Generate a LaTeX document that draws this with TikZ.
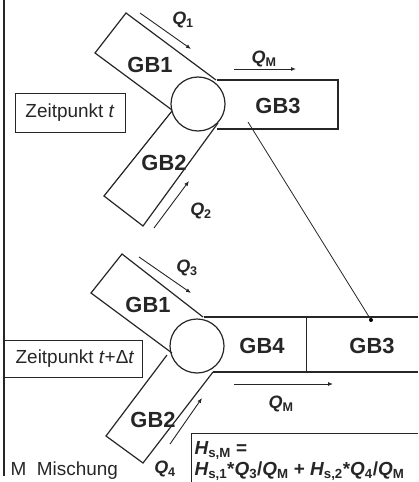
\documentclass[tikz,border=0pt]{standalone}
\usepackage{fontspec}
\setmainfont{Liberation Sans}
\usetikzlibrary{arrows.meta}
\begin{document}
\begin{tikzpicture}[x=1bp,y=-1bp,line width=1.2bp,draw=black!85,
  gb/.style={font=\fontsize{22}{24}\selectfont\bfseries,text=black!85},
  lbl/.style={font=\fontsize{19}{22}\selectfont,text=black!85},
  ql/.style={font=\fontsize{18}{20}\selectfont\bfseries\itshape,text=black!85},
  fl/.style={font=\fontsize{19}{21}\selectfont\bfseries\itshape,text=black!85},
  flow/.style={-{Latex[length=5bp,width=4bp]},line width=0.9bp},
  thin/.style={line width=0.8bp}]
\useasboundingbox (0,0) rectangle (418,482);
% left border
\draw[line width=1.8bp] (4,0) -- (4,476);
% ---------- top ----------
\node[circle,draw,minimum size=54bp,inner sep=0pt] (c1) at (198,104) {};
\draw (216,80) -- (126,13) -- (95,53) -- (172,110);
\draw (172,111) -- (104,196) -- (143,226) -- (218,123);
\draw (217,80) -- (338,80) -- (338,129) -- (217,129);
\node[gb] (gb1a) at (150,65) {GB1};
\node[gb] (gb2a) at (164,163) {GB2};
\node[gb] (gb3a) at (278,106) {GB3};
\node[lbl,draw,thin,minimum width=110bp,minimum height=39bp,inner sep=0pt] (zt) at (70,112.5) {Zeitpunkt \textit{t}};
\coordinate (q1s) at (140,13); \coordinate (q1e) at (191,49);
\draw[flow] (q1s) -- (q1e);
\node[ql] (q1) at (183,20) {Q\textsubscript{\upshape 1}};
\coordinate (q2s) at (154,228); \coordinate (q2e) at (189,181);
\draw[flow] (q2s) -- (q2e);
\node[ql] (q2) at (201,211) {Q\textsubscript{\upshape 2}};
\coordinate (qms) at (234,69); \coordinate (qme) at (296,69);
\draw[flow] (qms) -- (qme);
\node[ql] (qm) at (264,59) {Q\textsubscript{\upshape M}};
% connector
\coordinate (p1) at (248,122);
\coordinate (p2) at (371,320);
\draw[thin] (p1) -- (p2);
\fill (p2) circle (2bp);
% ---------- bottom ----------
\node[circle,draw,minimum size=54bp,inner sep=0pt] (c2) at (197,346) {};
\draw (203,317) -- (122,254) -- (91,293) -- (172,353);
\draw (167,355) -- (106,436) -- (143,463) -- (213,372);
\draw (204,317) -- (418,317);
\draw (213,372) -- (418,372);
\draw[thin] (306,317) -- (306,372);
\node[gb] (gb1b) at (148,305) {GB1};
\node[gb] (gb2b) at (153,420) {GB2};
\node[gb] (gb4) at (262,346) {GB4};
\node[gb] (gb3b) at (372,346) {GB3};
\draw[thin] (4,340) rectangle (142,377);
\node[lbl] (ztd) at (75,359) {Zeitpunkt \textit{t}+Δ\textit{t}};
\coordinate (q3s) at (139,257); \coordinate (q3e) at (191,293);
\draw[flow] (q3s) -- (q3e);
\node[ql] (q3) at (187,268) {Q\textsubscript{\upshape 3}};
\coordinate (q4s) at (170,444); \coordinate (q4e) at (202,398);
\draw[flow] (q4s) -- (q4e);
\node[ql] (q4) at (165,469) {Q\textsubscript{\upshape 4}};
\coordinate (qm2s) at (234,384); \coordinate (qm2e) at (333,384);
\draw[flow] (qm2s) -- (qm2e);
\node[ql] (qm2) at (281,404) {Q\textsubscript{\upshape M}};
% formula box
\draw[thin] (418,433) -- (191,433) -- (191,482);
\node[fl,anchor=base west,inner sep=0pt] (f1) at (194,454) {H\textsubscript{\upshape s,M} \upshape =};
\node[fl,anchor=base west,inner sep=0pt] (f2) at (194,475) {H\textsubscript{\upshape s,1}\upshape *\itshape Q\textsubscript{\upshape 3}\upshape /\itshape Q\textsubscript{\upshape M} \upshape + \itshape H\textsubscript{\upshape s,2}\upshape *\itshape Q\textsubscript{\upshape 4}\upshape /\itshape Q\textsubscript{\upshape M}};
\node[lbl,anchor=base west,inner sep=0pt] (mm) at (10,475) {M\ \ Mischung};
\end{tikzpicture}
\end{document}
